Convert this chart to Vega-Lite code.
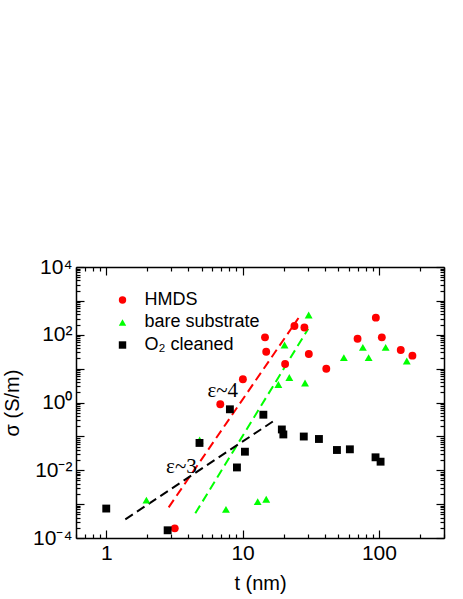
{
  "$schema": "https://vega.github.io/schema/vega-lite/v6.json",
  "width": 368,
  "height": 271,
  "autosize": "none",
  "padding": {"left": 76, "top": 267, "right": 19, "bottom": 61},
  "background": "white",
  "config": {
    "view": {"stroke": null},
    "axis": {
      "domainColor": "black", "domainWidth": 1.5,
      "tickColor": "black", "tickWidth": 1.2,
      "labelColor": "black", "labelFont": "Liberation Sans", "labelFontSize": 21,
      "titleColor": "black", "titleFont": "Liberation Sans", "titleFontSize": 20, "titleFontWeight": "normal",
      "grid": false, "labelOverlap": false, "labelFlush": false, "labelBound": false
    }
  },
  "datasets": {
    "points": [
      {"series": "\u00a0HMDS", "t": 3.18, "sigma": 0.000193},
      {"series": "\u00a0HMDS", "t": 6.86, "sigma": 0.885},
      {"series": "\u00a0HMDS", "t": 10.05, "sigma": 4.84},
      {"series": "\u00a0HMDS", "t": 14.6, "sigma": 84},
      {"series": "\u00a0HMDS", "t": 14.9, "sigma": 31.6},
      {"series": "\u00a0HMDS", "t": 20.5, "sigma": 13.7},
      {"series": "\u00a0HMDS", "t": 24.0, "sigma": 181},
      {"series": "\u00a0HMDS", "t": 28.4, "sigma": 164},
      {"series": "\u00a0HMDS", "t": 30.6, "sigma": 27},
      {"series": "\u00a0HMDS", "t": 41.1, "sigma": 9.95},
      {"series": "\u00a0HMDS", "t": 69.7, "sigma": 76.4},
      {"series": "\u00a0HMDS", "t": 94.9, "sigma": 319},
      {"series": "\u00a0HMDS", "t": 105, "sigma": 84},
      {"series": "\u00a0HMDS", "t": 144.5, "sigma": 35.5},
      {"series": "\u00a0HMDS", "t": 176, "sigma": 24.1},
      {"series": "bare substrate", "t": 1.97, "sigma": 0.00132},
      {"series": "bare substrate", "t": 4.84, "sigma": 0.078},
      {"series": "bare substrate", "t": 7.55, "sigma": 0.0007},
      {"series": "bare substrate", "t": 12.9, "sigma": 0.00118},
      {"series": "bare substrate", "t": 14.9, "sigma": 0.00139},
      {"series": "bare substrate", "t": 18.3, "sigma": 3.4},
      {"series": "bare substrate", "t": 20.3, "sigma": 49.8},
      {"series": "bare substrate", "t": 22.0, "sigma": 5.47},
      {"series": "bare substrate", "t": 28.7, "sigma": 3.77},
      {"series": "bare substrate", "t": 30.5, "sigma": 383},
      {"series": "bare substrate", "t": 55.3, "sigma": 21},
      {"series": "bare substrate", "t": 76.2, "sigma": 42.6},
      {"series": "bare substrate", "t": 84, "sigma": 21},
      {"series": "bare substrate", "t": 112, "sigma": 42.6},
      {"series": "bare substrate", "t": 160, "sigma": 16.8},
      {"series": "O₂ cleaned", "t": 1.0, "sigma": 0.00074},
      {"series": "O₂ cleaned", "t": 2.82, "sigma": 0.000169},
      {"series": "O₂ cleaned", "t": 4.83, "sigma": 0.064},
      {"series": "O₂ cleaned", "t": 8.07, "sigma": 0.63},
      {"series": "O₂ cleaned", "t": 9.09, "sigma": 0.0121},
      {"series": "O₂ cleaned", "t": 10.4, "sigma": 0.0353},
      {"series": "O₂ cleaned", "t": 14.2, "sigma": 0.436},
      {"series": "O₂ cleaned", "t": 19.4, "sigma": 0.16},
      {"series": "O₂ cleaned", "t": 19.9, "sigma": 0.114},
      {"series": "O₂ cleaned", "t": 28.1, "sigma": 0.099},
      {"series": "O₂ cleaned", "t": 36.3, "sigma": 0.0837},
      {"series": "O₂ cleaned", "t": 49.2, "sigma": 0.0396},
      {"series": "O₂ cleaned", "t": 61.2, "sigma": 0.0415},
      {"series": "O₂ cleaned", "t": 94.4, "sigma": 0.0241},
      {"series": "O₂ cleaned", "t": 102.8, "sigma": 0.0179}
    ],
    "fits": [
      {"series": "\u00a0HMDS", "t": 2.87, "sigma": 0.000805},
      {"series": "\u00a0HMDS", "t": 25.7, "sigma": 312},
      {"series": "bare substrate", "t": 4.5, "sigma": 0.000536},
      {"series": "bare substrate", "t": 30.3, "sigma": 151},
      {"series": "O₂ cleaned", "t": 1.38, "sigma": 0.000356},
      {"series": "O₂ cleaned", "t": 17.3, "sigma": 0.304}
    ],
    "legendrows": [
      {"series": "\u00a0HMDS", "t": 1.316, "tl": 1.905, "sigma": 1062},
      {"series": "bare substrate", "t": 1.316, "tl": 1.905, "sigma": 230},
      {"series": "O₂ cleaned", "t": 1.316, "tl": 1.905, "sigma": 49.8}
    ],
    "notes": [
      {"label": "ε~4", "t": 7.15, "sigma": 2.18},
      {"label": "ε~3", "t": 3.56, "sigma": 0.0125}
    ]
  },
  "layer": [
    {
      "data": {"name": "fits"},
      "mark": {"type": "line", "strokeDash": [9, 5], "strokeWidth": 2},
      "encoding": {
        "x": {"field": "t", "type": "quantitative",
          "scale": {"type": "log", "domain": [0.6, 300], "nice": false},
          "axis": {"orient": "bottom", "title": "t (nm)", "titlePadding": 6,
            "values": [0.6,0.7,0.8,0.9,1,2,3,4,5,6,7,8,9,10,20,30,40,50,60,70,80,90,100,200,300],
            "labelExpr": "(datum.value==1||datum.value==10||datum.value==100) ? ''+datum.value : ''",
            "tickSize": {"condition": {"test": "datum.value==1||datum.value==10||datum.value==100", "value": -8}, "value": -4},
            "labelPadding": 12}},
        "y": {"field": "sigma", "type": "quantitative",
          "scale": {"type": "log", "domain": [0.0001, 10000], "nice": false},
          "axis": {"orient": "left", "title": "σ (S/m)", "titlePadding": 10,
            "values": [0.0001,0.0002,0.0003,0.0004,0.0005,0.0006,0.0007,0.0008,0.0009,0.001,0.002,0.003,0.004,0.005,0.006,0.007,0.008,0.009,0.01,0.02,0.03,0.04,0.05,0.06,0.07,0.08,0.09,0.1,0.2,0.3,0.4,0.5,0.6,0.7,0.8,0.9,1,2,3,4,5,6,7,8,9,10,20,30,40,50,60,70,80,90,100,200,300,400,500,600,700,800,900,1000,2000,3000,4000,5000,6000,7000,8000,9000,10000],
            "labelExpr": "datum.value==10000?'10⁴':datum.value==100?'10²':datum.value==1?'10⁰':datum.value==0.01?'10⁻²':datum.value==0.0001?'10⁻⁴':''",
            "tickSize": {"condition": {"test": "indexof([0.0001,0.001,0.01,0.1,1,10,100,1000,10000], datum.value) >= 0", "value": -8}, "value": -4},
            "labelPadding": 12}},
        "stroke": {"field": "series", "type": "nominal", "legend": null,
          "scale": {"domain": ["\u00a0HMDS", "bare substrate", "O₂ cleaned"], "range": ["#ff0000", "#00ff00", "#000000"]}},
        "detail": {"field": "series"}
      }
    },
    {
      "data": {"name": "points"},
      "mark": {"type": "point", "filled": true, "opacity": 1, "size": 62},
      "encoding": {
        "x": {"field": "t", "type": "quantitative",
          "scale": {"type": "log", "domain": [0.6, 300], "nice": false},
          "axis": {"orient": "top", "title": null, "labels": false,
            "values": [0.6,0.7,0.8,0.9,1,2,3,4,5,6,7,8,9,10,20,30,40,50,60,70,80,90,100,200,300],
            "tickSize": {"condition": {"test": "datum.value==1||datum.value==10||datum.value==100", "value": -8}, "value": -4}}},
        "y": {"field": "sigma", "type": "quantitative",
          "scale": {"type": "log", "domain": [0.0001, 10000], "nice": false},
          "axis": {"orient": "right", "title": null, "labels": false,
            "values": [0.0001,0.0002,0.0003,0.0004,0.0005,0.0006,0.0007,0.0008,0.0009,0.001,0.002,0.003,0.004,0.005,0.006,0.007,0.008,0.009,0.01,0.02,0.03,0.04,0.05,0.06,0.07,0.08,0.09,0.1,0.2,0.3,0.4,0.5,0.6,0.7,0.8,0.9,1,2,3,4,5,6,7,8,9,10,20,30,40,50,60,70,80,90,100,200,300,400,500,600,700,800,900,1000,2000,3000,4000,5000,6000,7000,8000,9000,10000],
            "tickSize": {"condition": {"test": "indexof([0.0001,0.001,0.01,0.1,1,10,100,1000,10000], datum.value) >= 0", "value": -8}, "value": -4}}},
        "color": {"field": "series", "type": "nominal", "legend": null,
          "scale": {"domain": ["\u00a0HMDS", "bare substrate", "O₂ cleaned"], "range": ["#ff0000", "#00ff00", "#000000"]}},
        "shape": {"field": "series", "type": "nominal", "legend": null,
          "scale": {"domain": ["\u00a0HMDS", "bare substrate", "O₂ cleaned"], "range": ["circle", "triangle-up", "square"]}}
      }
    },
    {
      "data": {"name": "legendrows"},
      "mark": {"type": "point", "filled": true, "opacity": 1, "size": 55},
      "encoding": {
        "x": {"field": "t", "type": "quantitative", "axis": null,
          "scale": {"type": "log", "domain": [0.6, 300], "nice": false}},
        "y": {"field": "sigma", "type": "quantitative", "axis": null,
          "scale": {"type": "log", "domain": [0.0001, 10000], "nice": false}},
        "color": {"field": "series", "type": "nominal", "legend": null},
        "shape": {"field": "series", "type": "nominal", "legend": null}
      }
    },
    {
      "data": {"name": "legendrows"},
      "mark": {"type": "text", "font": "Liberation Sans", "fontSize": 18, "align": "left", "baseline": "middle", "color": "black"},
      "encoding": {
        "x": {"field": "tl", "type": "quantitative", "axis": null,
          "scale": {"type": "log", "domain": [0.6, 300], "nice": false}},
        "y": {"field": "sigma", "type": "quantitative", "axis": null,
          "scale": {"type": "log", "domain": [0.0001, 10000], "nice": false}},
        "text": {"field": "series"}
      }
    },
    {
      "data": {"name": "notes"},
      "mark": {"type": "text", "font": "Liberation Serif", "fontSize": 21, "align": "center", "baseline": "middle", "color": "black"},
      "encoding": {
        "x": {"field": "t", "type": "quantitative", "axis": null,
          "scale": {"type": "log", "domain": [0.6, 300], "nice": false}},
        "y": {"field": "sigma", "type": "quantitative", "axis": null,
          "scale": {"type": "log", "domain": [0.0001, 10000], "nice": false}},
        "text": {"field": "label"}
      }
    }
  ],
  "resolve": {"axis": {"x": "independent", "y": "independent"}}
}
